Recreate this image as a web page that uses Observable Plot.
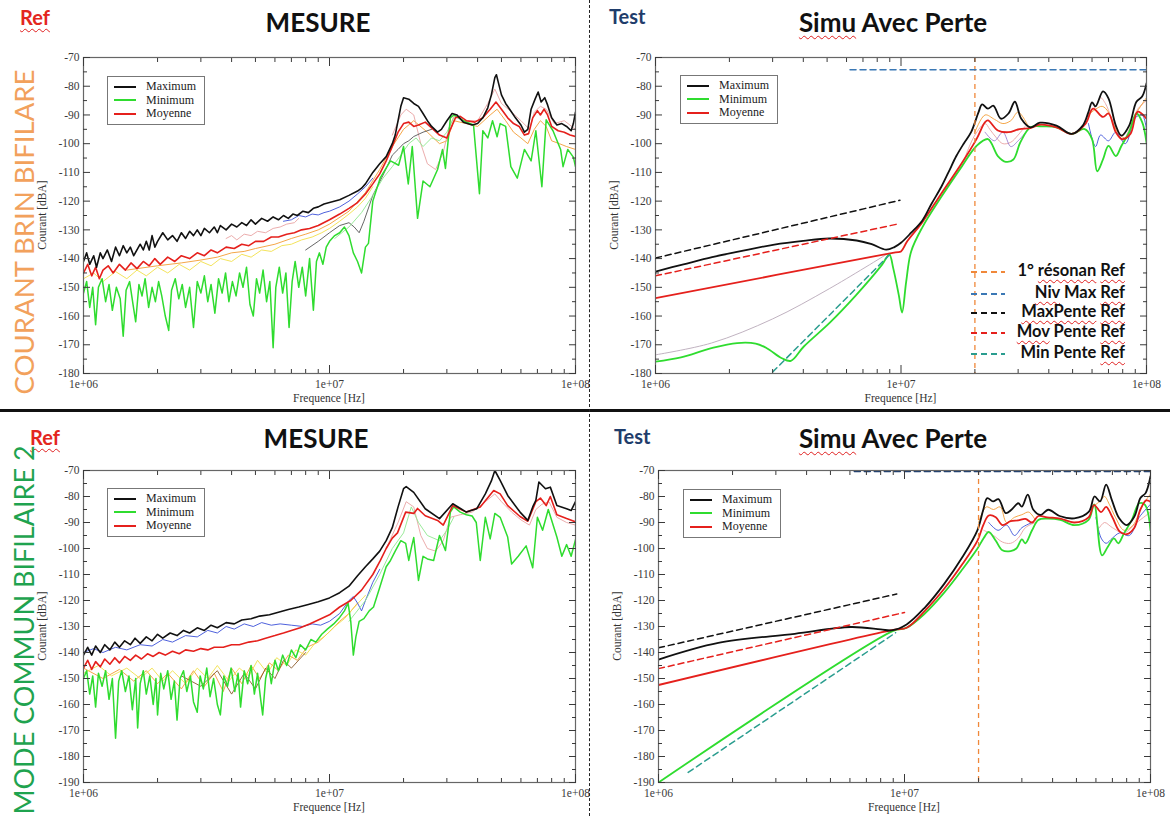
<!DOCTYPE html>
<html>
<head>
<meta charset="utf-8">
<script src="https://cdn.jsdelivr.net/npm/d3@7"></script>
<script src="https://cdn.jsdelivr.net/npm/@observablehq/plot@0.6"></script>
<style>
  body { margin: 0; background: #fff; }
  #page { position: relative; width: 1170px; height: 816px; overflow: hidden; background: #fff; font-family: Lato, "Open Sans", sans-serif; }
  .abs { position: absolute; white-space: nowrap; }
  .title { font-weight: 700; font-size: 26px; color: #111; }
  .wavy { text-decoration: underline wavy #e02020; text-decoration-thickness: 1px; text-underline-offset: 3px; }
  .serif { font-family: "Liberation Serif", "DejaVu Serif", serif; color: #333; font-size: 11.5px; }
  .legbox { border: 1.5px solid #777; background: #fff; padding: 3px 8px 3px 6px; font-family: "Liberation Serif", serif; font-size: 12px; color: #222; line-height: 13.5px; }
  .legrow { display: flex; align-items: center; }
  .legline { width: 22px; height: 0; border-top: 2px solid; margin-right: 10px; }
  .reflabel { font-family: Lato, sans-serif; font-weight: 700; font-size: 16.5px; color: #111; }
</style>
</head>
<body>
<div id="page"></div>
<script>
// ---------------- axis ticks ----------------
const xMajorMHz = [1, 10, 100];
const xTickLabels = ["1e+06", "1e+07", "1e+08"];
const xMinorMHz = [2, 3, 4, 5, 6, 7, 8, 9, 20, 30, 40, 50, 60, 70, 80, 90];
const yMajorTop = [-180, -170, -160, -150, -140, -130, -120, -110, -100, -90, -80, -70];
const yMinorTop = [-175, -165, -155, -145, -135, -125, -115, -105, -95, -85, -75];
const yMajorBottom = [-190, -180, -170, -160, -150, -140, -130, -120, -110, -100, -90, -80, -70];
const yMinorBottom = [-185, -175, -165, -155, -145, -135, -125, -115, -105, -95, -85, -75];

const legendLabels = ["Maximum", "Minimum", "Moyenne"];
const refLegendLabels = ["1° résonan Ref", "Niv Max Ref", "MaxPente Ref", "Mov Pente Ref", "Min Pente Ref"];
const resonanceMHz = [20];

// ---------------- top-left : MESURE, courant brin bifilaire ([MHz, dBA]) ----------------
const tlBlack = [[1,-141],[1.03,-138],[1.06,-142],[1.1,-139],[1.13,-143],[1.17,-138],[1.2,-140],[1.25,-137],[1.3,-141],[1.35,-136],[1.4,-139],[1.45,-135.5],[1.5,-138],[1.55,-136],[1.6,-139],[1.7,-135],[1.75,-137],[1.8,-134],[1.85,-137],[1.9,-132],[1.95,-136],[2,-134],[2.1,-131],[2.2,-133.5],[2.3,-132],[2.4,-134],[2.5,-131],[2.6,-133],[2.7,-130.5],[2.8,-132],[2.9,-130],[3,-132],[3.1,-129.5],[3.25,-131],[3.4,-129],[3.5,-131],[3.6,-128.5],[3.8,-130],[4,-128],[4.2,-129],[4.4,-127.5],[4.6,-128.5],[4.8,-126.5],[5,-128],[5.3,-126],[5.6,-127],[5.9,-125.5],[6.2,-126.5],[6.5,-125],[6.8,-126],[7.1,-124.5],[7.4,-125],[7.8,-123.5],[8.2,-124],[8.6,-122.5],[9,-122],[9.5,-121],[10,-120.5],[11,-119.5],[12,-118],[13,-116.5],[13.5,-115.5],[14,-114],[15,-110],[16,-107],[17,-104.5],[18,-100],[18.5,-97],[19,-92],[19.5,-87],[20,-84],[21,-84.5],[22,-86],[23,-87],[24,-89.5],[25,-92],[26,-94],[27.5,-96],[28.5,-95],[30,-92],[31.5,-89.5],[33,-90],[35,-92.5],[38,-93.5],[40,-93],[42,-91],[44,-87.5],[45.5,-83],[47,-77],[47.7,-76],[48.5,-78.5],[50,-83],[52,-86],[54,-88],[57,-91],[60,-93.5],[62,-96],[64,-95],[66,-88],[68.5,-84.5],[70.5,-82],[72.5,-85.5],[75,-84],[77,-86.5],[80,-91],[84,-93.5],[88,-93],[92,-94],[96,-95.5],[98,-93],[100,-89]];
const tlRed = [[1,-145],[1.04,-142],[1.08,-146],[1.12,-143],[1.16,-147],[1.2,-144],[1.26,-142.5],[1.32,-145],[1.4,-142],[1.48,-144],[1.56,-141.5],[1.65,-143.5],[1.75,-141],[1.85,-142.5],[1.95,-140],[2.05,-142],[2.2,-139.5],[2.35,-141],[2.5,-139],[2.7,-140],[2.9,-138],[3.1,-139],[3.3,-137],[3.5,-138],[3.8,-136],[4.1,-136.5],[4.4,-135],[4.7,-135.5],[5,-134],[5.4,-134],[5.8,-132.5],[6.2,-132.5],[6.7,-131.5],[7.2,-131],[7.7,-130],[8.3,-129.5],[9,-128.5],[10,-126.5],[11,-124.5],[12,-122.5],[13,-120.5],[14,-117.5],[15,-114],[16,-110.5],[17,-106],[18,-101],[19,-96],[20,-93],[21,-92.5],[22,-94],[23,-93.5],[24.5,-92.5],[26,-94.5],[28,-97],[30,-98],[31,-95],[32.5,-91],[34,-90.5],[36,-92],[39,-92.5],[42,-91],[45,-88],[47.5,-85.5],[50,-88],[53,-91],[56,-93],[59,-94],[62,-97],[64.5,-96.5],[67,-91],[70,-88.5],[72,-90],[74.5,-88],[77,-90],[80,-94],[85,-95.5],[90,-96],[95,-97],[100,-97.5]];
const tlGreen = [[1,-152],[1.03,-148],[1.06,-157],[1.09,-150],[1.12,-163],[1.15,-150],[1.19,-147],[1.23,-155],[1.27,-149],[1.31,-158],[1.36,-150],[1.41,-154],[1.45,-167],[1.49,-151],[1.54,-148],[1.59,-156],[1.63,-162],[1.68,-149],[1.73,-153],[1.78,-147],[1.84,-157],[1.9,-150],[1.96,-155],[2.02,-148],[2.08,-153],[2.15,-160],[2.22,-165],[2.28,-151],[2.36,-147],[2.44,-154],[2.52,-149],[2.6,-157],[2.7,-150],[2.8,-164],[2.9,-148],[3,-152],[3.1,-146],[3.2,-155],[3.3,-149],[3.42,-159],[3.54,-147],[3.66,-152],[3.78,-145],[3.9,-155],[4.03,-148],[4.17,-153],[4.31,-145],[4.45,-150],[4.6,-143],[4.75,-156],[4.9,-160],[5.05,-147],[5.2,-152],[5.37,-144],[5.55,-155],[5.72,-148],[5.9,-171],[6.05,-150],[6.25,-143],[6.45,-152],[6.65,-145],[6.85,-164],[7.05,-148],[7.25,-141],[7.5,-150],[7.75,-143],[8,-153],[8.3,-140],[8.6,-158],[8.85,-141],[9.1,-138],[9.4,-142],[9.7,-136],[10,-134],[10.5,-132],[11,-131],[11.5,-129],[12,-132],[12.5,-138],[13,-141],[13.5,-145],[14,-136],[14.4,-134.7],[15,-120],[16.1,-111.8],[17.7,-106],[19.1,-107.5],[20,-101],[20.9,-114],[21.7,-101],[22.8,-126],[24,-113],[25.6,-115],[27.5,-109],[28.8,-102],[29.6,-108.6],[31,-91],[32,-90],[35,-92],[38.5,-93.5],[40.7,-117.4],[42,-95.5],[44,-98],[46,-92],[48,-97.6],[49.4,-93],[52,-94],[54.6,-108],[58,-112],[62,-102],[66,-106],[69,-95.5],[73,-115],[76,-91.7],[81,-95.5],[87,-102],[89,-108],[93,-102],[98,-104.7],[100,-108]];
const tlBlue = [[6.5,-127],[7,-126.5],[7.5,-125],[8,-125.5],[8.5,-124.5],[9,-124.8],[9.5,-124],[10,-123.5],[11,-122],[12,-120],[13,-117.5],[14,-115],[15,-112]];
const tlPinkLow = [[3.8,-133],[4,-132],[4.2,-133.5],[4.5,-131.5],[4.8,-132],[5.1,-130.5],[5.5,-131],[5.9,-129.5],[6.3,-129],[6.7,-128],[7.2,-127.5],[7.5,-126]];
const tlPinkHigh = [[18,-97],[19.5,-90],[20.5,-88],[22,-90],[23.5,-100],[25,-107],[27,-109],[29,-103],[30.5,-95],[32,-90.5],[35,-92],[40,-92],[44,-86],[47,-81],[50,-86],[55,-89],[60,-92],[65,-95],[68,-89],[72,-87],[76,-88],[82,-93],[90,-92],[100,-95]];
const tlYellow = [[1,-147],[1.1,-145],[1.2,-148],[1.35,-144.5],[1.5,-147],[1.65,-144],[1.8,-146],[2,-143],[2.2,-145],[2.45,-142],[2.7,-144],[3,-141],[3.3,-142.5],[3.6,-140],[4,-141],[4.4,-138.5],[4.8,-139.5],[5.3,-137],[5.8,-137.5],[6.4,-135.5],[7,-135],[7.7,-133.5],[8.5,-132.5],[9.3,-131],[10,-129.5],[11,-127],[12,-124.5],[13,-122],[14,-119],[15,-115]];
const tlOrange = [[1.5,-144],[2,-142.5],[2.5,-141.5],[3,-140.5],[3.5,-139.5],[4,-138],[4.5,-137.5],[5,-136.5],[6,-135],[7,-133],[8,-131.5],[9,-130],[10,-128],[12,-123.5],[14,-117],[16,-109],[18,-101],[20,-95],[22,-92],[25,-96],[28,-100],[30,-99],[32,-92],[36,-93],[40,-94],[45,-90],[48,-88],[52,-92],[56,-96],[60,-98],[64,-100],[68,-95],[72,-92],[76,-94],[80,-99],[86,-100],[92,-101],[100,-102]];
const tlDark = [[8,-137],[9,-134],[10,-131],[11,-128.5],[12,-127.5],[12.6,-129],[13.2,-131],[13.8,-127],[15,-118],[16.5,-111],[18,-104],[19,-102],[20,-100],[21,-99],[22,-97.5],[24,-96],[26,-95]];
const tlLightGreen = [[10.5,-133],[12,-129],[13.5,-124],[15,-118],[16.5,-112],[18,-108],[19.5,-104],[21,-100],[22.5,-98],[24,-101],[26,-98],[28,-99],[30,-96],[32,-91]];

// ---------------- bottom-left : MESURE, mode commun bifilaire 2 ----------------
const blBlack = [[1,-141],[1.04,-138],[1.08,-141],[1.12,-137.5],[1.17,-140],[1.22,-137],[1.28,-139],[1.34,-136],[1.4,-138],[1.47,-135.5],[1.55,-137],[1.62,-134.5],[1.7,-136.5],[1.8,-134],[1.9,-135.5],[2,-133],[2.1,-134.5],[2.25,-132.5],[2.4,-133.5],[2.55,-131.5],[2.7,-132.5],[2.9,-130.5],[3.1,-131.5],[3.3,-129.5],[3.5,-130.5],[3.8,-128.5],[4.1,-129],[4.4,-127.5],[4.8,-127],[5.2,-126],[5.7,-125.5],[6.2,-124.5],[6.8,-123.5],[7.5,-122.5],[8.2,-121.5],[9,-120.5],[10,-119],[11,-117],[12,-114.5],[13,-110.5],[14,-107],[15,-104],[16,-101],[17,-97],[18,-92],[19,-84],[20,-77],[20.5,-76.2],[22,-78.4],[24.5,-84.7],[28,-88.5],[31.7,-82.8],[36,-86],[39.7,-84.7],[43,-79],[45.5,-74],[47,-70],[49.4,-73.8],[53,-79.6],[59.5,-86],[64,-89.2],[67,-84],[69,-81.5],[71,-74.4],[75.5,-77],[79,-76.4],[84,-83.5],[92,-84.7],[96,-85.4],[100,-82]];
const blRed = [[1,-146],[1.04,-143],[1.08,-146.5],[1.12,-143.5],[1.17,-145.5],[1.22,-142.5],[1.28,-144.5],[1.34,-142],[1.4,-144],[1.47,-141.5],[1.55,-143],[1.63,-141],[1.72,-142.5],[1.82,-140.5],[1.92,-141.5],[2.03,-140],[2.15,-141],[2.3,-139.5],[2.45,-140.5],[2.6,-139],[2.8,-139.5],[3,-138.5],[3.2,-139],[3.4,-138],[3.7,-138],[4,-137],[4.3,-137],[4.7,-136],[5.1,-135.5],[5.5,-134.5],[6,-133.5],[6.5,-132.5],[7,-131.5],[7.6,-130.5],[8.3,-129],[9,-127.5],[10,-125.5],[11,-122.5],[12.2,-120],[13.5,-116],[15,-110],[16.1,-104.6],[17,-100],[18,-96],[18.9,-94],[20.4,-86],[22,-86.5],[22.8,-84.6],[24.5,-87.4],[27.5,-89.2],[29,-91],[31.7,-83.5],[36,-86],[41,-84],[46.5,-77.7],[49.4,-79],[53,-83.5],[59.5,-87.7],[64,-89.5],[69,-82],[72,-80.6],[76,-83.5],[79,-80],[84,-87],[92,-88.5],[100,-89.7]];
const blGreen = [[1,-150],[1.03,-147],[1.06,-156],[1.09,-149],[1.12,-161],[1.15,-148],[1.19,-153],[1.23,-147],[1.27,-158],[1.31,-150],[1.35,-173],[1.39,-151],[1.43,-147],[1.48,-155],[1.53,-149],[1.58,-162],[1.63,-150],[1.66,-169],[1.7,-152],[1.75,-147],[1.8,-156],[1.86,-149],[1.92,-160],[1.97,-150],[2,-164],[2.06,-148],[2.12,-154],[2.2,-147],[2.27,-158],[2.34,-151],[2.4,-166],[2.47,-150],[2.55,-147],[2.63,-155],[2.72,-149],[2.8,-159],[2.9,-163],[2.98,-149],[3.07,-154],[3.17,-146],[3.27,-157],[3.38,-150],[3.5,-160],[3.6,-164],[3.72,-149],[3.85,-153],[3.98,-146],[4.12,-155],[4.25,-148],[4.35,-161],[4.5,-147],[4.65,-152],[4.8,-145],[4.95,-156],[5.1,-148],[5.25,-158],[5.35,-164],[5.5,-150],[5.65,-145],[5.8,-152],[6,-143],[6.2,-147],[6.45,-141],[6.7,-145],[7,-139],[7.3,-142],[7.6,-137],[8,-139],[8.4,-135],[8.8,-136],[9.3,-133],[9.8,-131],[10.4,-129],[11,-126.5],[11.5,-124],[11.9,-121],[12.2,-128],[12.5,-141],[12.8,-134],[13.2,-128],[13.8,-127],[14.5,-124],[15.1,-122.5],[16,-115],[17,-107],[17.7,-104.6],[18.5,-101],[19.5,-97],[20.4,-98],[21,-104.6],[21.6,-99],[22,-95.8],[23,-112.3],[24,-103],[25,-104],[26.5,-104.6],[28,-95],[29.6,-100.8],[31,-86],[32,-84],[34,-86],[36,-87],[38,-87.5],[39.5,-90],[41,-104.6],[43,-88],[45,-96.3],[47,-86.5],[49.4,-88],[53,-95.6],[55,-106],[58.5,-103],[63,-99],[67,-107.4],[70,-88],[73.5,-93],[77.5,-85],[84,-95.6],[88,-103],[92,-98.5],[96,-103],[100,-96.6]];
const blBlue = [[1,-140],[1.1,-138.5],[1.2,-140],[1.35,-138],[1.5,-139],[1.7,-137],[1.9,-137.5],[2.1,-135],[2.3,-136],[2.6,-133.5],[2.9,-134],[3.2,-131.5],[3.5,-132.5],[3.8,-130],[4.1,-131],[4.5,-129],[4.9,-130],[5.3,-128.5],[5.8,-129.5],[6.3,-129],[7,-129.5],[7.8,-130],[8.5,-129],[9.2,-129.5],[10,-128],[11,-125],[12,-120],[12.5,-118.5],[13,-121],[13.5,-124],[14,-120],[15,-113],[16,-108]];
const blYellow = [[1,-148],[1.15,-145],[1.3,-149],[1.5,-146],[1.7,-150],[1.9,-146],[2.1,-151],[2.3,-147],[2.6,-152],[2.9,-146],[3.2,-150],[3.5,-145],[3.9,-151],[4.3,-146],[4.7,-149],[5.1,-143],[5.6,-148],[6.1,-142],[6.7,-145],[7.3,-139],[8,-141],[8.8,-136],[9.5,-134],[10.5,-130],[11.5,-127],[12.5,-123],[14,-118]];
const blOrange = [[1,-146],[1.2,-150],[1.4,-146.5],[1.6,-151],[1.8,-147],[2,-152],[2.2,-148],[2.5,-154],[2.8,-147],[3.1,-153],[3.4,-148],[3.7,-155],[4,-146],[4.4,-152],[4.8,-145],[5.2,-150],[5.7,-144],[6.2,-147],[6.8,-141],[7.4,-143],[8.1,-138],[9,-136],[10,-132],[11,-128],[12,-125],[13,-121]];
const blDark = [[2.5,-149],[3,-153],[3.5,-147],[4,-156],[4.5,-148],[5,-154],[5.5,-146],[6,-150],[6.5,-143],[7,-146],[8,-140]];
const blPink = [[17,-100],[19,-90],[20.5,-82],[22,-84],[23.5,-95],[25,-100],[27,-101],[29,-97],[31,-88],[34,-87],[38,-86],[43,-82],[47,-79],[50,-82],[55,-86],[60,-89],[65,-91],[69,-85],[73,-83],[78,-82],[84,-88],[92,-90],[100,-91]];
const blLightGreen = [[12,-128],[14,-120],[16,-110],[18,-100],[20,-94],[21.5,-84],[23,-90],[25,-95],[28,-97],[30,-93],[32,-88]];

// ---------------- top-right : Simu avec perte, courant brin bifilaire ----------------
const trMax = [[1,-144.5],[1.3,-142],[1.7,-139.5],[2.2,-137.5],[3.05,-135.1],[4,-133.8],[5.1,-133],[6.6,-133.7],[7.6,-135],[8.7,-136.9],[9.4,-136],[10,-134.5],[11,-131],[12.2,-126.8],[13.3,-121],[14.6,-115],[15.6,-110],[16.8,-104.3],[18,-100],[19.3,-96],[20.7,-89],[21.4,-86.3],[22.6,-87.8],[23.8,-86.8],[25.5,-91.3],[27.4,-89.5],[29.1,-85.4],[30.9,-91.3],[33.7,-94.3],[36.8,-92.7],[43,-93.7],[49.5,-96.6],[55,-93.7],[58,-89],[60,-85.6],[62,-87],[66.5,-81.8],[70,-84.2],[75,-93.7],[79,-97.2],[85,-93.7],[91,-85.4],[96,-83.6],[100,-79]];
const trMoy = [[1,-153.8],[9.5,-137.8],[10,-137.5],[10.6,-134],[12.2,-127.4],[14.6,-117.3],[17.7,-106.7],[20.3,-98.4],[22,-92.5],[22.6,-91.9],[24.8,-95.4],[27.4,-96],[30.4,-94.9],[33.7,-94.6],[36.8,-93.4],[43,-94.3],[49.5,-96.6],[56.5,-93],[60.5,-87.8],[66.5,-90.7],[70,-89.5],[75,-96],[79.5,-98.4],[86,-96.6],[92,-88.9],[100,-91.3]];
const trMin = [[1,-175.9],[1.27,-174.4],[1.69,-171.2],[2.15,-169.4],[2.56,-169.6],[2.84,-171.2],[3.27,-174.7],[3.56,-175.6],[4.02,-170.6],[5.13,-162.3],[6.55,-152.8],[8.36,-142.2],[8.96,-138.6],[9.3,-143.4],[9.8,-152.8],[10.1,-158.8],[10.5,-148],[11,-137.5],[12.2,-129.2],[14.6,-118.5],[17.7,-107.9],[20.3,-100.8],[22.6,-98.4],[24.8,-104.3],[26.7,-106.3],[28.7,-105.5],[30.6,-99.6],[33.7,-94.3],[38,-94],[43,-94.3],[49.5,-96.6],[56,-94.9],[60,-98.4],[63,-109.6],[66.5,-105.5],[70,-100.8],[75,-104.3],[79,-100.8],[85,-96],[91,-89.5],[96,-92.5],[100,-99.6]];
const trGrey = [[1,-173.5],[1.69,-169.4],[3,-161],[5.1,-150.5],[8.7,-138.6]];
const trPinkA = [[18,-106],[20,-97],[22,-93],[23,-95],[24.5,-98],[26,-100],[28,-99.5],[30,-97],[32,-94]];
const trPinkB = [[55,-94],[58,-90],[62,-87],[65,-84],[68,-86],[72,-91],[76,-96],[80,-99],[86,-94],[92,-88],[100,-85]];
const trBlueA = [[22,-96],[24,-99],[26,-96],[28,-101],[30,-99],[33,-95]];
const trBlueB = [[58,-93],[62,-101],[65,-97],[70,-99],[75,-96],[82,-100],[90,-91],[96,-90],[100,-95]];
const trOrangeA = [[20,-96],[22,-90],[24,-91.5],[26,-93],[28,-92],[30,-89],[33,-94]];
const trOrangeB = [[58,-90],[62,-88],[66,-87],[70,-89],[75,-95],[82,-98],[90,-90],[100,-84]];
const trMaxSlope = [[1,-139.8],[9.9,-119.7]];
const trMoySlope = [[1,-146],[9.9,-127.8]];
const trMinSlope = [[3,-179.5],[9,-138.6]];
const trNivMax = [[6.2,-74.3],[100,-74.3]];

// ---------------- bottom-right : Simu avec perte, mode commun bifilaire 2 ----------------
const brMax = [[1,-142.7],[1.75,-136.3],[3.58,-132.8],[6.04,-130.2],[8,-131.1],[8.86,-131.5],[10.2,-129.2],[12.1,-122.7],[14.5,-113.6],[17.2,-103.3],[19.8,-92.9],[20.9,-85.1],[21.7,-80.6],[22.9,-81.9],[24.1,-81],[25.8,-86.4],[27.2,-85.1],[29,-82.6],[30,-83.9],[31.7,-79.3],[33.4,-85.1],[35.8,-87.1],[38.4,-85.1],[42.7,-87.5],[49,-88.4],[56.2,-85.8],[59.2,-80],[62.4,-81.9],[66,-75.4],[69.6,-81.3],[74.6,-88.4],[80,-91],[86,-87.7],[91,-80.6],[95.5,-78.7],[100,-72.2]];
const brMoy = [[1,-152.5],[9,-131.3],[10.2,-130.5],[12.1,-124],[14.5,-115.5],[17.2,-106],[19.8,-97],[20.9,-91],[22,-87.3],[23.5,-88],[25,-91],[27,-89.5],[29,-89.2],[31,-88.6],[33,-90],[35,-87.5],[38,-88],[43,-88.5],[49,-90],[56,-88],[59,-83.3],[63,-86],[66,-84],[70,-88],[75,-93.5],[80,-94.5],[86,-92],[91,-85],[96,-81.5],[100,-82]];
const brMin = [[1,-190],[9,-131.7],[10.2,-130.5],[12.1,-125],[14.5,-117],[17.2,-108],[19.8,-100],[21,-96],[22,-93.6],[23.5,-97],[25,-100.7],[27,-101],[28.5,-100],[30,-96.5],[31,-98],[33,-93],[35,-89],[38,-88.5],[43,-89],[49,-91],[56,-89],[59,-83],[63.5,-102.6],[67,-99.4],[71,-96.1],[74,-98],[78,-94.2],[84,-89],[90,-82.6],[95,-83.2],[100,-93]];
const brOrangeA = [[20,-90],[21.5,-84],[23,-85],[24.5,-84],[26,-90],[28,-88],[30,-87],[32,-86],[34,-89]];
const brOrangeB = [[58,-84],[62,-82],[65,-80],[68,-83],[72,-88],[78,-93],[85,-91],[92,-84],[100,-79]];
const brBlueA = [[22,-90],[24,-93],[26,-91],[28,-95],[30,-92],[33,-90]];
const brBlueB = [[60,-88],[63,-96],[66,-98],[70,-96],[75,-94],[82,-95],[90,-88],[100,-83]];
const brPinkA = [[21,-93],[23,-95],[25,-97.5],[27,-98],[29,-96],[31,-92],[34,-90]];
const brPinkB = [[62,-92],[65,-90],[70,-92],[78,-94],[88,-90],[100,-86]];
const brMaxSlope = [[1,-138.2],[9.3,-117.5]];
const brMoySlope = [[1,-146.2],[10,-124.6]];
const brMinSlope = [[1.32,-186.1],[9.2,-132.4]];
const brNivMax = [[6.25,-70.4],[100,-70.4]];

// ---------------- styles ----------------
const C = {black: "#111", green: "#2fdc2f", red: "#e5201c", blue: "#3a4fd8", pink: "#e9a3a3", yellow: "#f2e04a", orange: "#f39c33", dark: "#555", lightgreen: "#8fe88f", grey: "#b9a9b9", purple: "#9a7fd0"};
const REF = {res: "#f0883a", niv: "#3b78b5", max: "#111", moy: "#e5201c", min: "#2a9d8f"};
const legendColors = [C.black, C.green, C.red];
const refLegendColors = [REF.res, REF.niv, REF.max, REF.moy, REF.min];

const rows = arr => arr.map(([m, v]) => ({f: m * 1e6, v}));
const page = document.getElementById("page");

function addDiv(html, css, cls) {
  const d = document.createElement("div");
  d.className = "abs " + (cls || "");
  d.innerHTML = html;
  Object.assign(d.style, css);
  page.appendChild(d);
  return d;
}

function drawPanel(p) {
  const marks = [];
  for (const s of p.series) {
    marks.push(Plot.line(rows(s.data), {x: "f", y: "v", stroke: s.color, strokeWidth: s.w, curve: p.curve, clip: true, strokeLinejoin: "round"}));
  }
  if (p.vline) marks.push(Plot.ruleX(p.vline.map(m => m * 1e6), {stroke: REF.res, strokeWidth: 1.3, strokeDasharray: "5,4"}));
  for (const s of (p.refs || [])) {
    marks.push(Plot.line(rows(s.data), {x: "f", y: "v", stroke: s.color, strokeWidth: 1.5, strokeDasharray: "6,4", clip: true}));
  }
  const blank = () => "";
  marks.push(
    Plot.frame({stroke: "#666", strokeWidth: 1.2}),
    Plot.axisY({ticks: p.yMajor, tickSize: 0, tickPadding: 4, tickFormat: d => `${d}`, label: null}),
    Plot.axisY({ticks: p.yMajor, tickSize: -7, tickFormat: blank, label: null}),
    Plot.axisY({ticks: p.yMinor, tickSize: -4, tickFormat: blank, label: null}),
    Plot.axisY({anchor: "right", ticks: p.yMajor, tickSize: -7, tickFormat: blank, label: null}),
    Plot.axisY({anchor: "right", ticks: p.yMinor, tickSize: -4, tickFormat: blank, label: null}),
    Plot.axisX({ticks: xMajorMHz.map(m => m * 1e6), tickSize: 0, tickPadding: 6, tickFormat: d => xTickLabels[xMajorMHz.indexOf(Math.round(d / 1e6))], label: null}),
    Plot.axisX({ticks: xMajorMHz.map(m => m * 1e6), tickSize: -8, tickFormat: blank, label: null}),
    Plot.axisX({ticks: xMinorMHz.map(m => m * 1e6), tickSize: -4, tickFormat: blank, label: null}),
    Plot.axisX({anchor: "top", ticks: xMajorMHz.map(m => m * 1e6), tickSize: -8, tickFormat: blank, label: null}),
    Plot.axisX({anchor: "top", ticks: xMinorMHz.map(m => m * 1e6), tickSize: -4, tickFormat: blank, label: null})
  );
  const svg = Plot.plot({
    width: p.width, height: p.height,
    marginLeft: 43, marginRight: 18, marginTop: 17, marginBottom: 33,
    x: {type: "log", domain: [1e6, 1e8], label: null},
    y: {domain: p.yDomain, label: null},
    style: {fontFamily: "'Liberation Serif', 'DejaVu Serif', serif", fontSize: "11.5px", color: "#3a3a3a", background: "transparent", overflow: "visible"},
    marks
  });
  const wrap = document.createElement("div");
  wrap.className = "abs";
  Object.assign(wrap.style, {left: p.left + "px", top: p.top + "px", width: p.width + "px", height: p.height + "px"});
  wrap.appendChild(svg);
  page.appendChild(wrap);

  // axis titles
  const fl = p.left + 43, fr = p.left + p.width - 18, ft = p.top + 17, fb = p.top + p.height - 33;
  addDiv("Courant [dBA]", {left: (fl - 41) + "px", top: ((ft + fb) / 2) + "px", transform: "translate(-50%,-50%) rotate(-90deg)"}, "serif");
  addDiv("Frequence [Hz]", {left: ((fl + fr) / 2) + "px", top: (fb + 25) + "px", transform: "translate(-50%,-50%)"}, "serif");

  // legend box
  addDiv(legendLabels.map((l, i) => `<div class="legrow"><span class="legline" style="border-color:${legendColors[i]}"></span>${l}</div>`).join(""),
    {left: p.legend[0] + "px", top: p.legend[1] + "px"}, "legbox");
}

const thin = 0.9;
const panels = [
  {left: 40, top: 40, width: 553, height: 366, yDomain: [-180, -70], yMajor: yMajorTop, yMinor: yMinorTop, curve: "linear", legend: [107, 76],
   series: [
     {data: tlOrange, color: C.orange, w: thin}, {data: tlYellow, color: C.yellow, w: thin},
     {data: tlPinkLow, color: C.pink, w: thin}, {data: tlPinkHigh, color: C.pink, w: thin},
     {data: tlBlue, color: C.blue, w: thin}, {data: tlDark, color: C.dark, w: thin},
     {data: tlLightGreen, color: C.lightgreen, w: thin},
     {data: tlGreen, color: C.green, w: 1.5}, {data: tlRed, color: C.red, w: 1.6}, {data: tlBlack, color: C.black, w: 1.6}]},
  {left: 612, top: 40, width: 552, height: 366, yDomain: [-180, -70], yMajor: yMajorTop, yMinor: yMinorTop, curve: "catmull-rom", legend: [680, 75], vline: resonanceMHz,
   series: [
     {data: trGrey, color: C.grey, w: thin}, {data: trPinkA, color: C.pink, w: thin}, {data: trPinkB, color: C.pink, w: thin},
     {data: trBlueA, color: C.purple, w: thin}, {data: trBlueB, color: C.blue, w: thin},
     {data: trOrangeA, color: C.orange, w: thin}, {data: trOrangeB, color: C.orange, w: thin},
     {data: trMin, color: C.green, w: 1.8}, {data: trMoy, color: C.red, w: 1.8}, {data: trMax, color: C.black, w: 1.8}],
   refs: [{data: trNivMax, color: REF.niv}, {data: trMaxSlope, color: REF.max}, {data: trMoySlope, color: REF.moy}, {data: trMinSlope, color: REF.min}]},
  {left: 40, top: 453, width: 553, height: 362, yDomain: [-190, -70], yMajor: yMajorBottom, yMinor: yMinorBottom, curve: "linear", legend: [107, 488],
   series: [
     {data: blOrange, color: C.orange, w: thin}, {data: blYellow, color: C.yellow, w: thin}, {data: blDark, color: "#8a5a2a", w: thin},
     {data: blPink, color: C.pink, w: thin}, {data: blBlue, color: C.blue, w: thin}, {data: blLightGreen, color: C.lightgreen, w: thin},
     {data: blGreen, color: C.green, w: 1.5}, {data: blRed, color: C.red, w: 1.6}, {data: blBlack, color: C.black, w: 1.6}]},
  {left: 615, top: 453, width: 553, height: 362, yDomain: [-190, -70], yMajor: yMajorBottom, yMinor: yMinorBottom, curve: "catmull-rom", legend: [683, 489], vline: resonanceMHz,
   series: [
     {data: brPinkA, color: C.pink, w: thin}, {data: brPinkB, color: C.pink, w: thin},
     {data: brBlueA, color: C.blue, w: thin}, {data: brBlueB, color: C.blue, w: thin},
     {data: brOrangeA, color: C.orange, w: thin}, {data: brOrangeB, color: C.orange, w: thin},
     {data: brMin, color: C.green, w: 1.8}, {data: brMoy, color: C.red, w: 1.8}, {data: brMax, color: C.black, w: 1.8}],
   refs: [{data: brNivMax, color: "#1f3f6f"}, {data: brMaxSlope, color: REF.max}, {data: brMoySlope, color: REF.moy}, {data: brMinSlope, color: REF.min}]}
];
panels.forEach(drawPanel);

// ---------------- titles & decorations ----------------
addDiv("", {left: "0px", top: "409px", width: "1170px", height: "3px", background: "#111"});
addDiv("", {left: "589px", top: "0px", width: "0px", height: "816px", borderLeft: "1.5px dashed #222"});

addDiv('<span class="wavy">Ref</span>', {left: "20px", top: "5px", color: "#e3261e", fontSize: "20px", fontWeight: 700});
addDiv("MESURE", {left: "318px", top: "22px", transform: "translate(-50%,-50%)"}, "title");
addDiv("Test", {left: "609px", top: "4px", color: "#1f3d6b", fontSize: "20px", fontWeight: 700});
addDiv('<span class="wavy">Simu</span> Avec Perte', {left: "893px", top: "22px", transform: "translate(-50%,-50%)"}, "title");

addDiv('<span class="wavy">Ref</span>', {left: "30px", top: "425px", color: "#e3261e", fontSize: "20px", fontWeight: 700});
addDiv("MESURE", {left: "316px", top: "438px", transform: "translate(-50%,-50%)"}, "title");
addDiv("Test", {left: "614px", top: "424px", color: "#1f3d6b", fontSize: "20px", fontWeight: 700});
addDiv('<span class="wavy">Simu</span> Avec Perte', {left: "893px", top: "438px", transform: "translate(-50%,-50%)"}, "title");

addDiv("COURANT BRIN BIFILARE", {left: "23px", top: "232px", transform: "translate(-50%,-50%) rotate(-90deg)", color: "#f2a15c", fontSize: "27.5px", fontFamily: "Lato, sans-serif"});
addDiv("MODE COMMUN BIFILAIRE 2", {left: "23px", top: "630px", transform: "translate(-50%,-50%) rotate(-90deg)", color: "#1fa34f", fontSize: "27px", fontFamily: "Lato, sans-serif"});

// reference legend (top-right)
const wavyWords = ["résonan", "Ref", "Niv", "MaxPente", "Mov"];
const refRowsY = [270, 292, 311, 331, 352];
refLegendLabels.forEach((lab, i) => {
  const html = lab.split(" ").map(w => wavyWords.includes(w) ? `<span class="wavy">${w}</span>` : w).join(" ");
  addDiv(`<svg width="34" height="4"><line x1="0" y1="2" x2="34" y2="2" stroke="${refLegendColors[i]}" stroke-width="1.8" stroke-dasharray="6,4"/></svg>`,
    {left: "971px", top: (refRowsY[i] - 2) + "px", lineHeight: "0"});
  addDiv(html, {right: (1170 - 1125) + "px", top: refRowsY[i] + "px", transform: "translateY(-50%)"}, "reflabel");
});
</script>
</body>
</html>
